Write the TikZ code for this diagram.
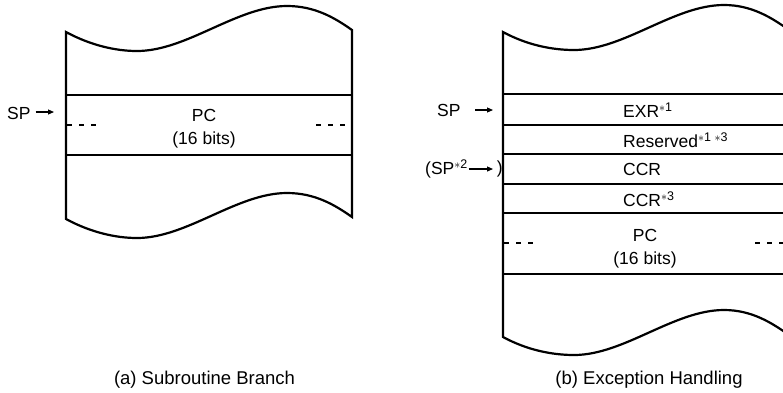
\documentclass[tikz,border=0pt]{standalone}
\usepackage{fontspec}
\setmainfont{Liberation Sans}
\usetikzlibrary{arrows.meta}
\newcommand\stsup[1]{\raisebox{6.5pt}{\fontsize{12.5}{12.5}\selectfont #1}}
\newcommand\mystar{\ensuremath{\ast}}
\begin{document}
\begin{tikzpicture}[x=1pt,y=-1pt,
 box/.style={line width=2.2pt, line join=miter},
 sep/.style={line width=2.2pt},
 dsh/.style={line width=1.1pt, dash pattern=on 5pt off 7pt},
 lbl/.style={inner sep=0pt, font=\fontsize{17.5}{20}\selectfont},
 captext/.style={inner sep=0pt, font=\fontsize{18.5}{21}\selectfont},
 ptr/.style={line width=1.1pt,-{Triangle[length=6pt,width=5pt]}}]
\useasboundingbox (0,0) rectangle (783,392);
\clip (0,0) rectangle (783,392);
% ---------- (a) ----------
\draw[box] (66,219) -- (66,32)
  .. controls (90,45) and (115,51) .. (137,51)
  .. controls (187,51) and (237,6) .. (287,6)
  .. controls (315,6) and (335,18) .. (352,30)
  -- (352,217)
  .. controls (335,205) and (315,193) .. (287,193)
  .. controls (237,193) and (187,238) .. (137,238)
  .. controls (115,238) and (90,232) .. (66,219) -- cycle;
\draw[sep] (66,95) -- (352,95);
\draw[sep] (66,155) -- (352,155);
\draw[dsh] (67,125) -- (101,125);
\draw[dsh] (316,125) -- (351,125);
\node[lbl] (apc) at (204,115) {PC};
\node[lbl] (abits) at (204,140) {(16 bits)};
\node[lbl,anchor=west] (asp) at (7,113) {SP};
\coordinate (aarr) at (54,112);
\draw[ptr] ([xshift=5pt]asp.east |- aarr) -- (aarr);
\node[captext] (acap) at (204.5,380) {(a) Subroutine Branch};
% ---------- (b) ----------
\draw[box] (503,337) -- (503,32)
  .. controls (527,45) and (552,50) .. (574,50)
  .. controls (624,50) and (674,5) .. (724,5)
  .. controls (752,5) and (772,18) .. (789,30)
  -- (789,335)
  .. controls (772,323) and (752,310) .. (724,310)
  .. controls (674,310) and (624,355) .. (574,355)
  .. controls (552,355) and (527,350) .. (503,337) -- cycle;
\foreach \yy in {94,125,154,184,213,274}
  \draw[sep] (503,\yy) -- (789,\yy);
\draw[dsh] (504,243) -- (539,243);
\draw[dsh] (755,243) -- (789,243);
\node[lbl,anchor=west] (exr) at (623,110) {EXR\stsup{\mystar1}};
\node[lbl,anchor=west] (res) at (623,140) {Reserved\stsup{\mystar1 \mystar3}};
\node[lbl,anchor=west] (ccr) at (623,169) {CCR};
\node[lbl,anchor=west] (ccrb) at (623,199) {CCR\stsup{\mystar3}};
\node[lbl] (bpc) at (645,235) {PC};
\node[lbl] (bbits) at (645,260) {(16 bits)};
\node[lbl,anchor=west] (bsp) at (437,110) {SP};
\coordinate (barr) at (493,110);
\draw[ptr] (475,110) -- (barr);
\node[lbl,anchor=west] (bsp2) at (425,169) {(SP\stsup{\mystar2}};
\coordinate (barr2) at (493,169);
\draw[ptr] ([xshift=1pt]bsp2.east |- barr2) -- (barr2);
\node[lbl,anchor=east] (bpar) at (503,169) {)};
\node[captext] (bcap) at (649,380) {(b) Exception Handling};
\end{tikzpicture}
\end{document}
